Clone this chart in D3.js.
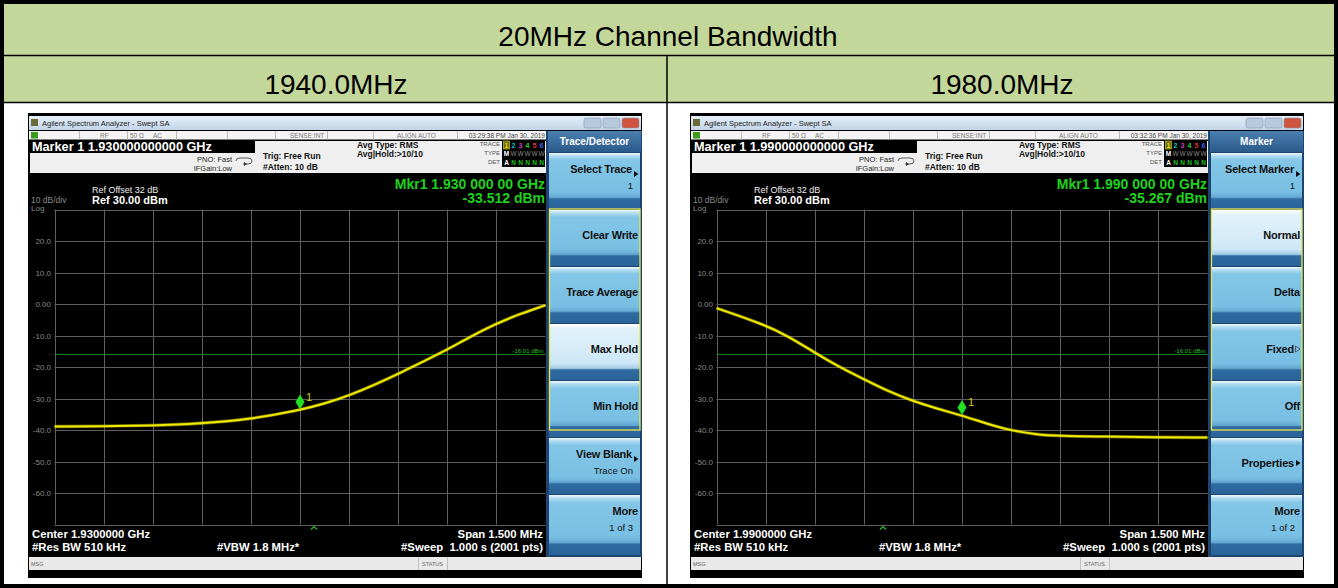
<!DOCTYPE html>
<html>
<head>
<meta charset="utf-8">
<script src="https://cdn.jsdelivr.net/npm/d3@7"></script>
<style>
html, body { margin: 0; padding: 0; background: #fff; }
svg { display: block; font-family: "Liberation Sans", Arial, sans-serif; }
</style>
</head>
<body>
<svg id="chart" width="1338" height="588"></svg>
<script>
// table captions
const titleText = "20MHz Channel Bandwidth";
const columnTitles = ["1940.0MHz", "1980.0MHz"];

// graticule: 10 dB/div, ref 30 dBm
const levelTicks = [20, 10, 0, -10, -20, -30, -40, -50, -60];
const levelTickLabels = ["20.0", "10.0", "0.00", "-10.0", "-20.0", "-30.0", "-40.0", "-50.0", "-60.0"];
const displayLine = -16.01;

// trace (MHz, dBm)
const leftFreq  = [1929.250, 1929.390, 1929.542, 1929.695, 1929.848, 1930.000, 1930.077, 1930.153,
                   1930.225, 1930.306, 1930.367, 1930.449, 1930.510, 1930.602, 1930.673, 1930.750];
const leftLevel = [-38.9, -38.8, -38.6, -38.0, -36.6, -33.7, -31.6, -28.9,
                   -25.8, -21.9, -18.7, -14.6, -10.9, -6.1, -3.1, -0.4];

const rightFreq  = [1989.250, 1989.398, 1989.470, 1989.545, 1989.623, 1989.695, 1989.776, 1989.848, 1989.919,
                    1990.000, 1990.073, 1990.143, 1990.225, 1990.296, 1990.439, 1990.591, 1990.750];
const rightLevel = [-1.3, -6.6, -10.3, -15.1, -19.9, -23.6, -27.8, -30.7, -33.1,
                    -35.4, -37.9, -40.0, -41.4, -41.9, -42.1, -42.3, -42.4];

const leftKeys = [
    {label: "Select Trace", sub: "1", arrow: true},
    {label: "Clear Write"},
    {label: "Trace Average"},
    {label: "Max Hold", on: true},
    {label: "Min Hold"},
    {label: "View Blank", sub: "Trace On", arrow: true},
    {label: "More", sub: "1 of 3"}
];
const rightKeys = [
    {label: "Select Marker", sub: "1", arrow: true},
    {label: "Normal", on: true},
    {label: "Delta"},
    {label: "Fixed", hollow: true},
    {label: "Off"},
    {label: "Properties", arrow: true},
    {label: "More", sub: "1 of 2"}
];

const screens = [
    {dx: 0, center: 1930.0, freq: leftFreq, level: leftLevel, mkr: -33.512,
     markerLine: "Marker 1 1.930000000000 GHz", time: "03:29:38 PM Jan 30, 2019",
     mkr1: "Mkr1 1.930 000 00 GHz", mkrVal: "-33.512 dBm", centerText: "Center 1.9300000 GHz",
     menu: "Trace/Detector", keys: leftKeys, caret: 314},
    {dx: 662, center: 1990.0, freq: rightFreq, level: rightLevel, mkr: -35.267,
     markerLine: "Marker 1 1.990000000000 GHz", time: "03:32:36 PM Jan 30, 2019",
     mkr1: "Mkr1 1.990 000 00 GHz", mkrVal: "-35.267 dBm", centerText: "Center 1.9900000 GHz",
     menu: "Marker", keys: rightKeys, caret: 221}
];

const svg = d3.select("#chart");
const defs = svg.append("defs");

function grad(id, stops) {
    const lg = defs.append("linearGradient").attr("id", id)
        .attr("x1", 0).attr("y1", 0).attr("x2", 0).attr("y2", 1);
    stops.forEach(s => lg.append("stop").attr("offset", s[0]).attr("stop-color", s[1]));
}
grad("keyGrad", [[0, "#f2fafe"], [0.05, "#b3ddf2"], [0.13, "#83c6e7"], [0.70, "#78bfe3"],
                 [0.79, "#65a9d3"], [0.82, "#2f6ba1"], [1, "#2a6398"]]);
grad("keyOn", [[0, "#ffffff"], [0.08, "#e2f2fb"], [0.70, "#cde7f7"], [0.79, "#a6cde7"],
               [0.82, "#2f6ba1"], [1, "#2a6398"]]);
grad("headGrad", [[0, "#4a7fb0"], [1, "#2a5a8a"]]);
grad("titleGrad", [[0, "#e4eef8"], [1, "#c3d5e9"]]);

// ---------- table ----------
svg.append("rect").attr("x", 0).attr("y", 0).attr("width", 1338).attr("height", 588).attr("fill", "#fff");
svg.append("rect").attr("x", 4).attr("y", 4).attr("width", 1330).attr("height", 98).attr("fill", "#c4d79b");
svg.append("line").attr("x1", 4).attr("x2", 1334).attr("y1", 55.5).attr("y2", 55.5)
    .attr("stroke", "#000").attr("stroke-width", 1.5);
svg.append("line").attr("x1", 4).attr("x2", 1334).attr("y1", 102.5).attr("y2", 102.5)
    .attr("stroke", "#000").attr("stroke-width", 1.5);
svg.append("line").attr("x1", 667).attr("x2", 667).attr("y1", 55.5).attr("y2", 586)
    .attr("stroke", "#000").attr("stroke-width", 1.5);
svg.append("rect").attr("x", 2).attr("y", 2).attr("width", 1334).attr("height", 584)
    .attr("fill", "none").attr("stroke", "#000").attr("stroke-width", 4);

svg.append("text").attr("x", 668).attr("y", 46).attr("text-anchor", "middle")
    .attr("font-size", 28).attr("fill", "#000").text(titleText);
svg.selectAll(".coltitle").data(columnTitles).join("text")
    .attr("x", (d, i) => i === 0 ? 336 : 1002).attr("y", 94).attr("text-anchor", "middle")
    .attr("font-size", 28).attr("fill", "#000").text(d => d);

// ---------- one analyzer screen ----------
function drawScreen(cfg) {
    const g = svg.append("g").attr("transform", `translate(${cfg.dx},0)`);
    const gx0 = 54.5, gx1 = 545.5, gy0 = 209.5, gy1 = 524.5;

    const x = d3.scaleLinear().domain([cfg.center - 0.75, cfg.center + 0.75]).range([gx0, gx1]);
    const y = d3.scaleLinear().domain([30, -70]).range([gy0, gy1]);

    // frame
    g.append("rect").attr("x", 28).attr("y", 113).attr("width", 614).attr("height", 465).attr("fill", "#000");

    // window title bar
    g.append("rect").attr("x", 29).attr("y", 116).attr("width", 612).attr("height", 14).attr("fill", "url(#titleGrad)");
    g.append("rect").attr("x", 31).attr("y", 119).attr("width", 7).attr("height", 7).attr("fill", "#6b6b3a");
    g.append("text").attr("x", 42).attr("y", 126).attr("font-size", 7.5).attr("fill", "#222")
        .text("Agilent Spectrum Analyzer - Swept SA");
    [[584, "#b7c9dd"], [603, "#b7c9dd"], [622, "#d0553f"]].forEach(b =>
        g.append("rect").attr("x", b[0]).attr("y", 118).attr("width", 17).attr("height", 10)
            .attr("rx", 2).attr("fill", b[1]).attr("stroke", "#7b8da3").attr("stroke-width", 0.5));

    // status line
    g.append("rect").attr("x", 29).attr("y", 131).attr("width", 517).attr("height", 8.5).attr("fill", "#f4f4f4");
    g.append("rect").attr("x", 31).attr("y", 132).attr("width", 7).attr("height", 6.5).attr("fill", "#3c9a1c");
    [79, 127, 176, 227, 275, 327, 373, 457].forEach(v =>
        g.append("line").attr("x1", v + 0.5).attr("x2", v + 0.5).attr("y1", 131).attr("y2", 139.5)
            .attr("stroke", "#b8b8b8"));
    [[100, "RF"], [130, "50 Ω"], [153, "AC"], [290, "SENSE:INT"], [397, "ALIGN AUTO"]].forEach(t =>
        g.append("text").attr("x", t[0]).attr("y", 137.5).attr("font-size", 6.5).attr("fill", "#777").text(t[1]));
    g.append("text").attr("x", 545).attr("y", 137.5).attr("text-anchor", "end").attr("font-size", 6.5)
        .attr("fill", "#444").text(cfg.time);

    // settings panel
    g.append("rect").attr("x", 30).attr("y", 141).attr("width", 516).attr("height", 32).attr("fill", "#efefef");
    g.append("rect").attr("x", 30).attr("y", 140).attr("width", 225).attr("height", 13).attr("fill", "#000");
    g.append("text").attr("x", 32).attr("y", 151).attr("font-size", 12.7).attr("font-weight", "bold")
        .attr("fill", "#fff").text(cfg.markerLine);
    g.append("text").attr("x", 232).attr("y", 162).attr("text-anchor", "end").attr("font-size", 7.5)
        .attr("fill", "#222").text("PNO: Fast");
    g.append("text").attr("x", 232).attr("y", 171).attr("text-anchor", "end").attr("font-size", 7.5)
        .attr("fill", "#222").text("IFGain:Low");
    g.append("path").attr("d", "M236,161 q0,-3 4,-3 h8 q4,0 4,3 q0,3 -4,3 h-5").attr("fill", "none")
        .attr("stroke", "#333").attr("stroke-width", 0.8);
    g.append("path").attr("d", "M244,162 l3,2 l-3,2 z").attr("fill", "#333");
    g.append("text").attr("x", 263).attr("y", 159).attr("font-size", 8.5).attr("font-weight", "bold")
        .attr("fill", "#111").text("Trig: Free Run");
    g.append("text").attr("x", 263).attr("y", 170).attr("font-size", 8.5).attr("font-weight", "bold")
        .attr("fill", "#111").text("#Atten: 10 dB");
    g.append("text").attr("x", 357).attr("y", 148).attr("font-size", 8.5).attr("font-weight", "bold")
        .attr("fill", "#111").text("Avg Type: RMS");
    g.append("text").attr("x", 357).attr("y", 157).attr("font-size", 8.5).attr("font-weight", "bold")
        .attr("fill", "#111").text("Avg|Hold:>10/10");

    // trace status box
    [["TRACE", 146], ["TYPE", 155], ["DET", 164]].forEach(t =>
        g.append("text").attr("x", 500).attr("y", t[1]).attr("text-anchor", "end").attr("font-size", 6)
            .attr("fill", "#555").text(t[0]));
    g.append("rect").attr("x", 502).attr("y", 140).attr("width", 43).attr("height", 27).attr("fill", "#000");
    const tColors = ["#e8e000", "#00c8d0", "#c040c0", "#30d030", "#e03030", "#4060ff"];
    tColors.forEach((c, i) => {
        const tx = 506 + i * 7;
        if (i === 0) g.append("rect").attr("x", tx - 2.5).attr("y", 141).attr("width", 6).attr("height", 8)
            .attr("fill", "#6a6a20").attr("stroke", "#e8e000").attr("stroke-width", 0.6);
        g.append("text").attr("x", tx + 0.5).attr("y", 147.5).attr("text-anchor", "middle").attr("font-size", 7)
            .attr("font-weight", "bold").attr("fill", c).text(i + 1);
        g.append("text").attr("x", tx + 0.5).attr("y", 156).attr("text-anchor", "middle").attr("font-size", 6.5)
            .attr("font-weight", i === 0 ? "bold" : "normal").attr("fill", i === 0 ? "#fff" : "#888")
            .text(i === 0 ? "M" : "W");
        g.append("text").attr("x", tx + 0.5).attr("y", 165).attr("text-anchor", "middle").attr("font-size", 6.5)
            .attr("font-weight", "bold").attr("fill", i === 0 ? "#fff" : "#20c020").text(i === 0 ? "A" : "N");
    });

    // reference / marker readout
    g.append("text").attr("x", 92).attr("y", 193).attr("font-size", 9).attr("fill", "#eee").text("Ref Offset 32 dB");
    g.append("text").attr("x", 92).attr("y", 204).attr("font-size", 11).attr("font-weight", "bold")
        .attr("fill", "#fff").text("Ref 30.00 dBm");
    g.append("text").attr("x", 31).attr("y", 203).attr("font-size", 8.5).attr("fill", "#8a8a8a").text("10 dB/div");
    g.append("text").attr("x", 31).attr("y", 211).attr("font-size", 8).attr("fill", "#8a8a8a").text("Log");
    g.append("text").attr("x", 545).attr("y", 189).attr("text-anchor", "end").attr("font-size", 14)
        .attr("font-weight", "bold").attr("fill", "#1ed21e").text(cfg.mkr1);
    g.append("text").attr("x", 545).attr("y", 203).attr("text-anchor", "end").attr("font-size", 14)
        .attr("font-weight", "bold").attr("fill", "#1ed21e").text(cfg.mkrVal);

    // graticule
    const grid = g.append("g").attr("stroke", "#5f5f5f").attr("stroke-width", 1);
    d3.range(11).forEach(i => {
        const f = cfg.center - 0.75 + i * 0.15;
        grid.append("line").attr("x1", Math.round(x(f)) + 0.5).attr("x2", Math.round(x(f)) + 0.5)
            .attr("y1", gy0).attr("y2", gy1);
    });
    d3.range(30, -71, -10).forEach(v => {
        grid.append("line").attr("x1", gx0).attr("x2", gx1)
            .attr("y1", Math.round(y(v)) + 0.5).attr("y2", Math.round(y(v)) + 0.5);
    });
    g.selectAll(".ylab").data(levelTicks).join("text")
        .attr("x", 51).attr("y", d => y(d) + 3).attr("text-anchor", "end")
        .attr("font-size", 8).attr("fill", "#8a8a8a")
        .text((d, i) => levelTickLabels[i]);

    // display line
    g.append("line").attr("x1", gx0).attr("x2", gx1).attr("y1", y(displayLine)).attr("y2", y(displayLine))
        .attr("stroke", "#168a16").attr("stroke-width", 1);
    g.append("text").attr("x", gx1 - 2).attr("y", y(displayLine) - 1.5).attr("text-anchor", "end")
        .attr("font-size", 6).attr("fill", "#20c020").text(displayLine.toFixed(2) + " dBm");

    // trace
    const pts = cfg.freq.map((f, i) => [f, cfg.level[i]]);
    const line = d3.line().x(d => x(d[0])).y(d => y(d[1])).curve(d3.curveBasis);
    g.append("path").attr("d", line(pts)).attr("fill", "none").attr("stroke", "#e6e000")
        .attr("stroke-width", 3.4).attr("stroke-opacity", 0.45);
    g.append("path").attr("d", line(pts)).attr("fill", "none").attr("stroke", "#f0ea00")
        .attr("stroke-width", 2);

    // marker 1
    const mx = x(cfg.center), my = y(cfg.mkr);
    g.append("path").attr("d", `M${mx},${my} l-4.5,-7.5 l4.5,-7.5 l4.5,7.5 z`).attr("fill", "#22e022");
    g.append("text").attr("x", mx + 6).attr("y", my - 9).attr("font-size", 11).attr("fill", "#d8d000").text("1");

    // trigger caret under graticule
    g.append("path").attr("d", `M${cfg.caret - 3},${gy1 + 5} l3,-3 l3,3`).attr("fill", "none")
        .attr("stroke", "#22c022").attr("stroke-width", 1.2);

    // bottom annotations
    g.append("text").attr("x", 32).attr("y", 538).attr("font-size", 11.3).attr("font-weight", "bold")
        .attr("fill", "#fff").text(cfg.centerText);
    g.append("text").attr("x", 32).attr("y", 551).attr("font-size", 11.3).attr("font-weight", "bold")
        .attr("fill", "#fff").text("#Res BW 510 kHz");
    g.append("text").attr("x", 217).attr("y", 551).attr("font-size", 11.3).attr("font-weight", "bold")
        .attr("fill", "#fff").text("#VBW 1.8 MHz*");
    g.append("text").attr("x", 543).attr("y", 538).attr("text-anchor", "end").attr("font-size", 11.3)
        .attr("font-weight", "bold").attr("fill", "#fff").text("Span 1.500 MHz");
    g.append("text").attr("x", 543).attr("y", 551).attr("text-anchor", "end").attr("font-size", 11.3)
        .attr("font-weight", "bold").attr("fill", "#fff").attr("xml:space", "preserve")
        .text("#Sweep  1.000 s (2001 pts)");

    // message bar
    g.append("rect").attr("x", 29).attr("y", 557).attr("width", 612).attr("height", 13).attr("fill", "#e9e9e9");
    g.append("text").attr("x", 31).attr("y", 566).attr("font-size", 5.5).attr("fill", "#666").text("MSG");
    [418, 447].forEach(v => g.append("line").attr("x1", v + 0.5).attr("x2", v + 0.5).attr("y1", 557).attr("y2", 570)
        .attr("stroke", "#c0c0c0"));
    g.append("text").attr("x", 432.5).attr("y", 566).attr("text-anchor", "middle").attr("font-size", 5.5)
        .attr("fill", "#666").text("STATUS");

    // softkey panel
    g.append("rect").attr("x", 546).attr("y", 131).attr("width", 96).attr("height", 426).attr("fill", "#1d4570");
    g.append("rect").attr("x", 548).attr("y", 131).attr("width", 93).attr("height", 21).attr("fill", "url(#headGrad)");
    g.append("text").attr("x", 594.5).attr("y", 145).attr("text-anchor", "middle").attr("font-size", 10)
        .attr("font-weight", "bold").attr("fill", "#fff").text(cfg.menu);

    cfg.keys.forEach((k, i) => {
        const top = 152 + i * 57;
        const h = i === 6 ? 61 : 57;
        g.append("rect").attr("x", 549).attr("y", top + 1).attr("width", 91).attr("height", h - 1)
            .attr("fill", k.on ? "url(#keyOn)" : "url(#keyGrad)");
        const rx = (k.arrow || k.hollow) ? 632 : 638;
        const two = !!k.sub;
        const by = top + (two ? 21 : 30);
        g.append("text").attr("x", rx).attr("y", by).attr("text-anchor", "end")
            .attr("font-size", 11).attr("font-weight", "bold").attr("fill", "#111")
            .attr("letter-spacing", -0.2).text(k.label);
        if (k.arrow) {
            const ay = two ? by + 1 : by - 4;
            g.append("path").attr("d", `M634,${ay - 3} l4.5,3 l-4.5,3 z`).attr("fill", "#111");
        }
        if (k.hollow) {
            g.append("path").attr("d", `M633.5,${by - 7} l4.5,3 l-4.5,3 z`).attr("fill", "none")
                .attr("stroke", "#444").attr("stroke-width", 0.8);
        }
        if (two) {
            g.append("text").attr("x", 633).attr("y", top + 37).attr("text-anchor", "end")
                .attr("font-size", 9.5).attr("fill", "#111").text(k.sub);
        }
    });
    // active group outline
    g.append("rect").attr("x", 549.5).attr("y", 209).attr("width", 90.5).attr("height", 221)
        .attr("fill", "none").attr("stroke", "#e8e64a").attr("stroke-width", 1.3);
}

screens.forEach(drawScreen);
</script>
</body>
</html>
